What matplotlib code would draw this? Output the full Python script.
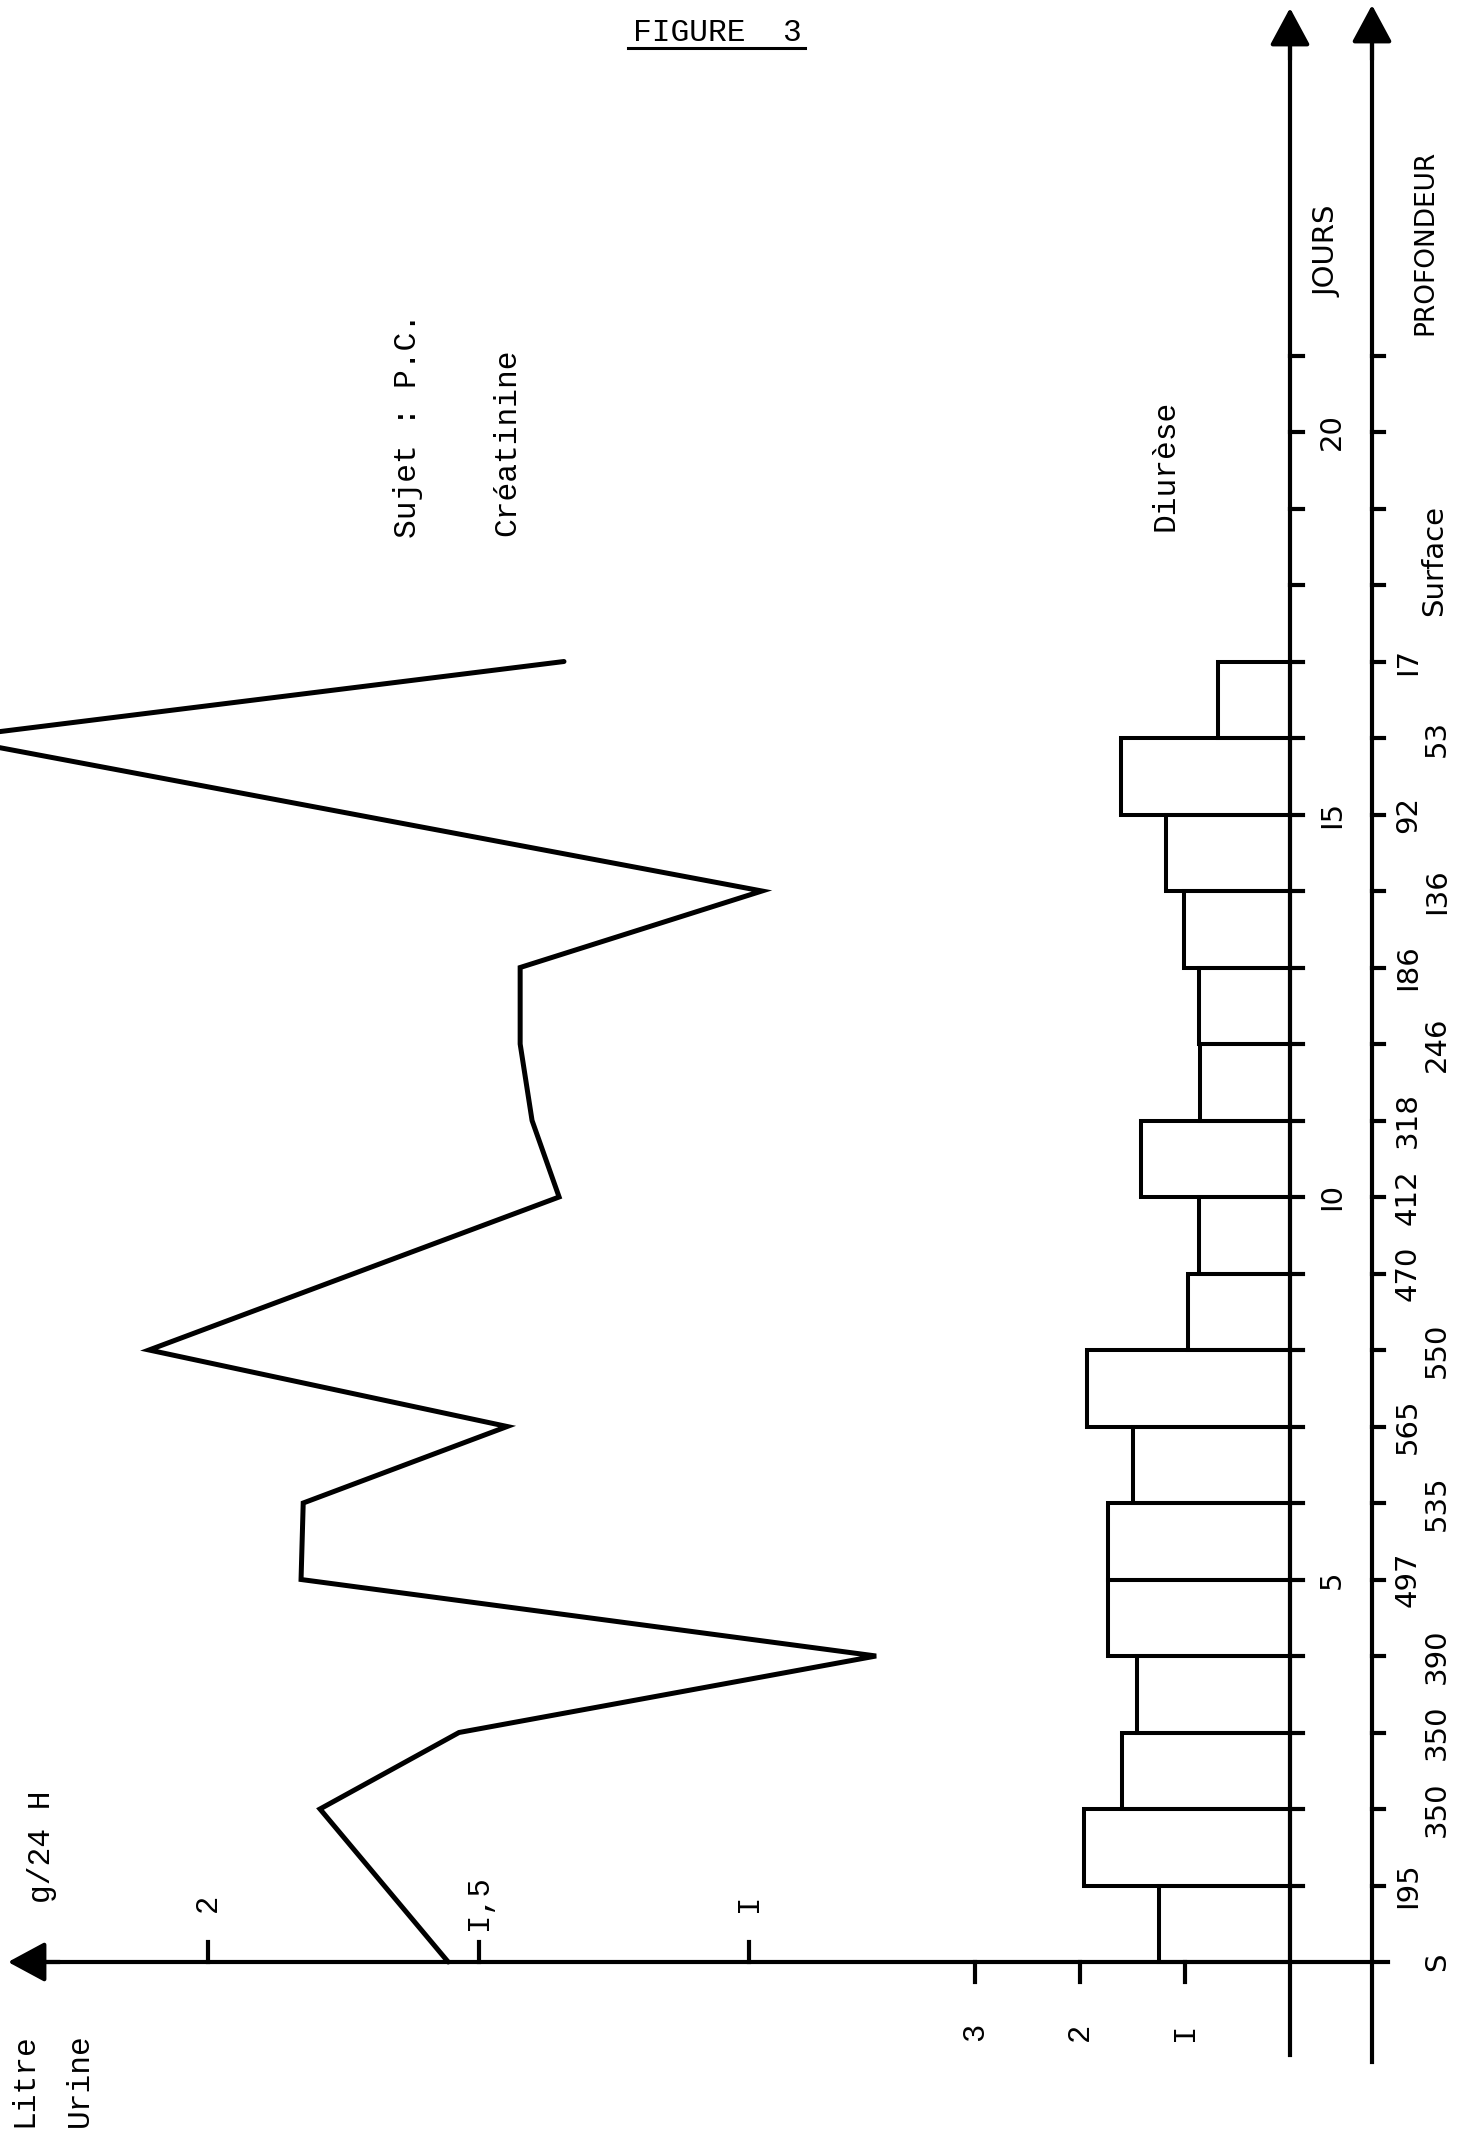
import matplotlib
matplotlib.use('Agg')
import matplotlib.pyplot as plt
import numpy as np

# ---------------- data ----------------
jour_ticks = list(range(1, 22))
jour_label_days = [5, 10, 15, 20]
jour_labels = ['5', 'I0', 'I5', '20']
profondeur_labels = ['S', 'I95', '350', '350', '390', '497', '535', '565', '550',
                     '470', '412', '318', '246', 'I86', 'I36', '92', '53', 'I7']
creat_days = [0, 2, 3, 4, 5, 6, 7, 8, 10, 11, 12, 13, 14, 16, 17]
creat_vals = [1.556, 1.793, 1.536, 0.765, 1.828, 1.824, 1.447, 2.109,
              1.351, 1.401, 1.423, 1.423, 0.976, 2.48, 1.342]
diurese_days = list(range(17))
diurese_vals = [1.25, 1.96, 1.60, 1.46, 1.73, 1.73, 1.50, 1.93, 0.97,
                0.87, 1.42, 0.86, 0.87, 1.01, 1.18, 1.61, 0.69]
creat_ticks = [2, 1.5, 1]
creat_tick_labels = ['2', 'I,5', 'I']
litre_ticks = [1, 2, 3]
litre_tick_labels = ['I', '2', '3']

# ---------------- layout (pixels of the page) ----------------
W, H = 1466, 2134
X0, Y0 = 1290, 1962          # zero of value axes / day 0
PX_G, PX_L, PX_D = 541.0, 105.0, 76.5

def px(x):   # page x pixel -> creatinine units
    return (X0 - x) / PX_G

def py(y):   # page y pixel -> day units
    return (Y0 - y) / PX_D

MONO = ['Liberation Mono', 'DejaVu Sans Mono']
NARROW = ['Liberation Sans Narrow', 'DejaVu Sans']
LW = 3.0

fig = plt.figure(figsize=(W / 100, H / 100), dpi=100)
fig.patch.set_facecolor('white')
ax = fig.add_axes([0, 0, 1, 1])
ax.set_xlim(px(0), px(W))
ax.set_ylim(py(H), py(0))
ax.axis('off')

ax2 = fig.add_axes([0, 0, 1, 1])
ax2.set_xlim(X0 / PX_L, (X0 - W) / PX_L)
ax2.set_ylim(py(H), py(0))
ax2.axis('off')
ax2.patch.set_visible(False)

# ---------------- diurese bars ----------------
ax2.barh(np.array(diurese_days) + 0.5, diurese_vals, height=1.0, left=0,
         fill=False, edgecolor='black', linewidth=2.9, joinstyle='miter')

# ---------------- creatinine line ----------------
ax.plot(creat_vals, creat_days, color='black', lw=3.6, solid_joinstyle='miter',
        solid_capstyle='round')

# ---------------- axes ----------------
arrow = dict(arrowstyle='-|>,head_length=1.15,head_width=0.62', mutation_scale=20,
             lw=LW, color='black', shrinkA=0, shrinkB=0)
# horizontal base line (g/24 H / Litre urine)
ax.plot([px(40), px(1388)], [0, 0], color='black', lw=LW)
ax.annotate('', xy=(px(8), 0), xytext=(px(60), 0), arrowprops=arrow)
# JOURS axis
ax.plot([0, 0], [py(2055), py(40)], color='black', lw=LW)
ax.annotate('', xy=(0, py(8)), xytext=(0, py(60)), arrowprops=arrow)
# PROFONDEUR axis
xp = px(1372)
ax.plot([xp, xp], [py(2062), py(40)], color='black', lw=LW)
ax.annotate('', xy=(xp, py(5)), xytext=(xp, py(60)), arrowprops=arrow)

for d in jour_ticks:
    ax.plot([0, px(X0 + 13)], [d, d], color='black', lw=LW)
    ax.plot([xp, px(1372 + 12)], [d, d], color='black', lw=LW)

for v in creat_ticks:
    ax.plot([v, v], [0, py(Y0 - 20)], color='black', lw=LW)
for v in litre_ticks:
    ax2.plot([v, v], [0, py(Y0 + 20)], color='black', lw=LW)

# ---------------- labels ----------------
tk = dict(rotation=90, ha='center', va='center', color='black')
for v, lab in zip(creat_ticks, creat_tick_labels):
    ax.text(v, py(1903), lab, family=MONO, fontsize=22, **tk)
for v, lab in zip(litre_ticks, litre_tick_labels):
    ax2.text(v, py(2032), lab, family=MONO, fontsize=22, **tk)

for d, lab in zip(jour_label_days, jour_labels):
    ax.text(px(1332), d, lab, family=NARROW, fontsize=21, **tk)

prof_cols = [1437, 1408, 1437, 1437, 1437, 1408, 1437, 1408, 1437,
             1408, 1408, 1408, 1437, 1408, 1437, 1408, 1437, 1408]
for d, (lab, xc) in enumerate(zip(profondeur_labels, prof_cols)):
    ax.text(px(xc), d, lab, family=NARROW, fontsize=21, **tk)
ax.text(px(1434), py(561), 'Surface', family=NARROW, fontsize=21, **tk)

ax.text(px(1328), py(251), 'JOURS', family=NARROW, fontsize=21, **tk)
ax.text(px(1425), py(242), 'PROFONDEUR', family=NARROW, fontsize=19, **tk)

ax.text(px(24), py(2080), 'Litre', family=MONO, fontsize=22.5, **tk)
ax.text(px(80), py(2080), 'Urine', family=MONO, fontsize=22.5, **tk)
ax.text(px(42), py(1847), 'g/24 H', family=MONO, fontsize=22.5, **tk)
ax.text(px(408), py(425), 'Sujet : P.C.', family=MONO, fontsize=22.5, **tk)
ax.text(px(507), py(442), 'Créatinine', family=MONO, fontsize=22.5, **tk)
ax.text(px(1166), py(465), 'Diurèse', family=MONO, fontsize=22.5, **tk)

# title
ax.text(px(717), py(33), 'FIGURE  3', family=MONO, fontsize=22.5,
        ha='center', va='center', color='black')
ax.plot([px(628), px(805)], [py(48), py(48)], color='black', lw=2.2)

fig.savefig('out.png', dpi=100, facecolor='white')
